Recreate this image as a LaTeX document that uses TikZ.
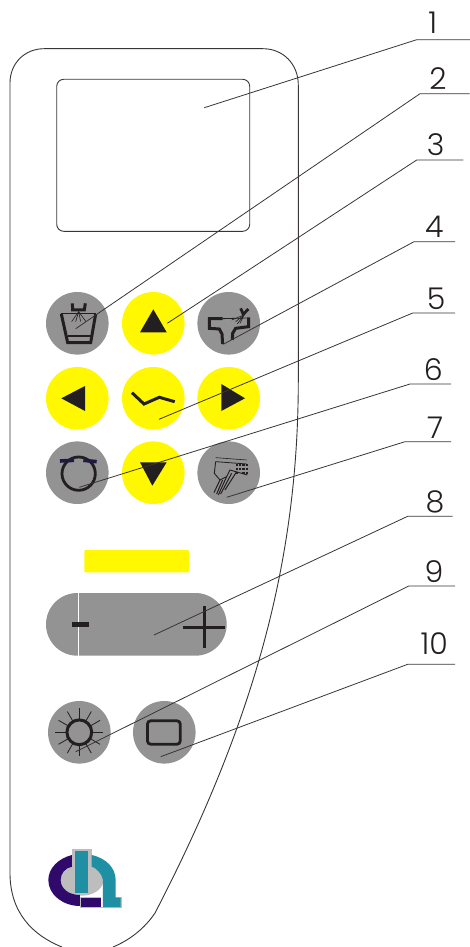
\documentclass[tikz,border=0pt]{standalone}
\usepackage{fontspec}
\usetikzlibrary{calc}
\setmainfont{Poppins}[UprightFont=* Light]
\definecolor{ink}{HTML}{231F20}
\definecolor{btngray}{HTML}{939393}
\definecolor{btnyel}{HTML}{FFF800}
\definecolor{logop}{HTML}{2F0A6B}
\definecolor{logot}{HTML}{1F8FA3}
\definecolor{logog}{HTML}{BDBDBD}
\tikzset{
  btn/.style={circle,inner sep=0pt,minimum size=62.6pt,draw=none},
  gbtn/.style={btn,fill=btngray},
  ybtn/.style={btn,fill=btnyel},
  outline/.style={draw=ink!90,line width=0.9pt},
  leader/.style={draw=ink!90,line width=0.8pt},
  num/.style={inner sep=0pt,font=\fontsize{30}{30}\selectfont,text=ink},
  tri/.style={fill=ink},
  heavy/.style={draw=ink,line width=3pt,line join=miter},
  fine/.style={draw=ink,line width=0.6pt},
}
\begin{document}
\begin{tikzpicture}[x=1pt,y=-1pt]
\useasboundingbox (0,0) rectangle (470,947);
% housing
\draw[outline] (62,947) .. controls (32,935) and (10,912) .. (10,873) -- (10,83)
  .. controls (10,63) and (25,48.7) .. (44,48.7) -- (263,48.7)
  .. controls (283,48.7) and (298.3,64) .. (298.3,85) -- (298.3,380)
  .. controls (298.3,560) and (255,720) .. (155,913)
  .. controls (145,928) and (130,940) .. (113,947);
% screen
\node[draw=ink!90,line width=0.9pt,rounded corners=7pt,inner sep=0pt,minimum width=193pt,minimum height=152pt] (screen) at (153.2,155.3) {};
% buttons
\node[gbtn] (glass) at (77.3,323.3) {};
\node[ybtn] (up) at (153.3,323.3) {};
\node[gbtn] (sink) at (228.7,323.3) {};
\node[ybtn] (left) at (77.3,398.3) {};
\node[ybtn] (chair) at (153.3,398.3) {};
\node[ybtn] (right) at (228.7,398.3) {};
\node[gbtn] (ring) at (77.3,472.7) {};
\node[ybtn] (down) at (153.3,472.7) {};
\node[gbtn] (handpiece) at (228.7,472.7) {};
\node[gbtn] (sun) at (79.3,732.3) {};
\node[gbtn] (rect) at (164.3,732.3) {};
\node[fill=btnyel,inner sep=0pt,minimum width=104.7pt,minimum height=22.3pt,rounded corners=1pt] (bar) at (136.7,561.2) {};
\node[fill=btngray,inner sep=0pt,minimum width=180.7pt,minimum height=62.7pt,rounded corners=31.3pt] (pill) at (136.35,624.35) {};
\draw[white,line width=1pt] (78.3,593) -- (78.3,655.7);
% pill signs
\fill[ink] (72,621.8) rectangle (89,626.8);
\fill[ink] (183.3,625.5) rectangle (224.7,628.5);
\fill[ink] (202.5,606) rectangle (205.5,648);
% arrows
\fill[tri] (140,332.3) -- (166.7,332.3) -- (153.3,309.3) -- cycle;
\fill[tri] (61.3,398.3) -- (85,386) -- (85,411) -- cycle;
\fill[tri] (245,398.3) -- (221.3,384) -- (221.3,411) -- cycle;
\fill[tri] (140,462.3) -- (166.7,462.3) -- (152.3,485.7) -- cycle;
\draw[ink,line width=3pt,line join=miter] (132,392.7) -- (144,404) -- (159.3,397.3) -- (174.7,401.7);
% icons in zoomed coordinates
\begin{scope}[shift={(30,280)},scale=0.3333]
  % glass
  \draw[heavy] (94,102) -- (113,188) -- (182,188) -- (197,102);
  \draw[ink,line width=1.6pt] (92,100) -- (198,100);
  \draw[ink,line width=1.6pt] (113,168) -- (183,168);
  \draw[heavy] (127,70) -- (128,90) -- (163,90) -- (166,70);
  \foreach \tx in {125,137,152,168} \draw[fine] (146,95) -- (\tx,125);
  % sink
  \draw[heavy] (578,116) -- (538,116) -- (538,145) -- (568,147) -- (576,162) -- (578,192);
  \draw[ink,line width=0.8pt] (578,116) -- (650,114);
  \draw[heavy] (656,112) -- (656,140) -- (617,145) -- (608,160) -- (607,180);
  \draw[ink,line width=2.8pt] (632,85) -- (640,103) -- (655,87);
  \foreach \tx/\ty in {617/125,622/132,630/130,605/120} \draw[fine] (642,105) -- (\tx,\ty);
  % ring
  \draw[ink,line width=2.8pt] (146,581) ellipse [x radius=50,y radius=50];
  \draw[ink!85!blue,line width=3.6pt] (90,543) -- (132,541);
  \draw[ink!85!blue,line width=3.6pt] (160,541) -- (200,545);
  % handpiece
  \draw[fine] (557,533) -- (650,540);
  \draw[ink,line width=0.8pt] (557,545) -- (650,552);
  \draw[ink,line width=0.9pt] (557,545) -- (553,580) -- (570,600) -- (590,590) -- (600,570) -- (652,585);
  \foreach \px/\py in {617/552,627/552,637/552,647/552,617/564,627/564,637/564,647/564,617/575,637/575,647/575}
    \fill[ink] (\px,\py) rectangle ++(7,7);
  \foreach \ax/\ay/\bx/\by in {570/600/552/638,578/600/560/642,590/590/565/645,605/580/572/642,620/575/585/630}
    \draw[ink,line width=1pt] (\ax,\ay) -- (\bx,\by);
\end{scope}
% sun
\draw[ink,line width=3pt] (79.3,732.3) circle (12.4);
\foreach \a in {0,30,...,330} \draw[ink,line width=0.8pt] ($(79.3,732.3)+(\a:12.4)$) -- ($(79.3,732.3)+(\a:24)$);
% rectangle icon
\draw[ink,line width=2.8pt,rounded corners=3.5pt] (147.4,720.7) rectangle (180.3,744.3);
% logo
\begin{scope}[shift={(0,820)},scale=0.3333]
  \fill[logog] (216,87) rectangle (275,150);
  \fill[logog] (245,181) ellipse [x radius=65,y radius=46];
  \fill[logog] (240,232) rectangle (365,264);
  \fill[logop] (216,105) .. controls (175,115) and (145,145) .. (145,180) .. controls (145,225) and (190,258) .. (240,258) -- (240,225) .. controls (205,225) and (182,205) .. (182,180) .. controls (182,160) and (195,145) .. (216,140) -- cycle;
  \fill[white] (303,262) rectangle (309,232);
  \fill[logop] (243,235) rectangle (303,261);
  \fill[logot] (225,93) rectangle (264,218);
  \fill[logot] (275,105) .. controls (320,115) and (347,145) .. (347,180) -- (347,233) -- (362,233) -- (362,261) -- (309,261) -- (309,180) .. controls (305,160) and (290,145) .. (275,140) -- cycle;
\end{scope}
% labels
\node[num] (n1) at (432.7,23) {1};
\node[num] (n2) at (438,79) {2};
\node[num] (n3) at (435.7,145) {3};
\node[num] (n4) at (434.3,226.7) {4};
\node[num] (n5) at (436,298.3) {5};
\node[num] (n6) at (433.3,369.3) {6};
\node[num] (n7) at (435,427.3) {7};
\node[num] (n8) at (435,502.3) {8};
\node[num] (n9) at (434,571.7) {9};
\node[num] (n10) at (434.3,644) {10};
% leaders
\foreach \id/\tipx/\tipy/\elx/\ely/\endx in {
 1/204.3/107.7/416.7/39.7/470,
 2/75.7/328.7/420/93.7/469.5,
 3/167.3/323.3/416.7/160/463.3,
 4/223.3/344.3/414/241.7/455,
 5/159/419.3/412.7/313/455,
 6/79.3/487.3/410/384/451,
 7/226.7/497.3/405/441.7/451,
 8/154/635/407.7/516.3/452.7,
 9/75.7/751.7/408.7/586/455,
 10/160.7/756.7/407.7/664.3/455}{
  \coordinate (tip\id) at (\tipx,\tipy);
  \coordinate (elbow\id) at (\elx,\ely);
  \coordinate (end\id) at (\endx,\ely);
  \draw[leader] (tip\id) -- (elbow\id) -- (end\id);
}
\end{tikzpicture}
\end{document}
